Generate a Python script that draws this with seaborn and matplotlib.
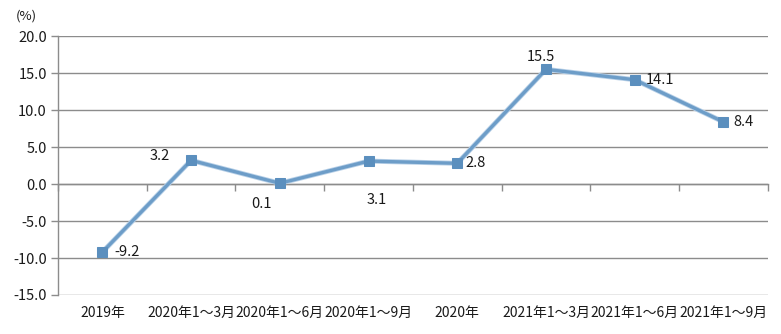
import matplotlib
matplotlib.use("Agg")
import matplotlib.pyplot as plt
import seaborn as sns
import pandas as pd
import numpy as np

# Growth rate (%) per period
periods = ["2019年", "2020年1～3月", "2020年1～6月", "2020年1～9月", "2020年",
           "2021年1～3月", "2021年1～6月", "2021年1～9月"]
growth = [-9.2, 3.2, 0.1, 3.1, 2.8, 15.5, 14.1, 8.4]
y_ticks = [20, 15, 10, 5, 0, -5, -10, -15]

sns.set_theme(style="white")
plt.rcParams['font.family'] = ['Noto Sans CJK SC', 'DejaVu Sans']

df = pd.DataFrame({"pos": np.arange(len(periods)), "growth": growth})

fig = plt.figure(figsize=(7.81, 3.34), dpi=100)
ax = fig.add_axes([0.0743, 0.1168, 0.9087, 0.7752])

grid_c = "#8c8c8c"
text_c = "#1a1a1a"
for t in y_ticks:
    ax.axhline(t, color=grid_c, lw=1.0, zorder=1)

# soft edge under the main line
sns.lineplot(data=df, x="pos", y="growth", ax=ax, color="#b9d1e8", lw=3.6,
             zorder=2, legend=False)
sns.lineplot(data=df, x="pos", y="growth", ax=ax, color="#6d9dc8", lw=2.4,
             marker="s", markersize=6.5, markerfacecolor="#5b8fbe",
             markeredgecolor="#5b8fbe", zorder=3, legend=False)

ax.set_xlim(-0.5, len(periods) - 0.5)
ax.set_ylim(-15, 20)
ax.set_xlabel("")
ax.set_ylabel("")

for s in ["top", "right", "bottom"]:
    ax.spines[s].set_visible(False)
ax.spines["left"].set_color(grid_c)
ax.spines["left"].set_linewidth(1.0)

ax.set_yticks(y_ticks)
ax.set_yticklabels([f"{t:.1f}" for t in y_ticks], fontsize=10.5, color=text_c)
ax.tick_params(axis="y", which="major", direction="out", length=5,
               color=grid_c, width=1.0, pad=3, left=True)

ax.set_xticks(df["pos"])
ax.set_xticklabels(periods, fontsize=10, color=text_c)
ax.tick_params(axis="x", length=0, pad=8)

# zero axis line with category boundary ticks
y0, y1 = ax.get_ylim()
zero_frac = (0 - y0) / (y1 - y0)
sec = ax.secondary_xaxis(zero_frac)
sec.set_xticks(np.arange(len(periods) + 1) - 0.5)
sec.set_xticklabels([])
sec.tick_params(direction="out", length=5, color=grid_c, width=1.0)
sec.spines["bottom"].set_color(grid_c)
sec.spines["bottom"].set_linewidth(1.0)

# value labels
offsets = [(8.5, 0, "left", "center"), (-15, 3, "right", "center"),
           (-6, -15, "right", "center"), (6, -28, "center", "center"),
           (6, 0, "left", "center"), (-4, 4, "center", "bottom"),
           (8, 0, "left", "center"), (7, 0, "left", "center")]
for i, (v, (dx, dy, ha, va)) in enumerate(zip(growth, offsets)):
    ax.annotate(f"{v:.1f}", (i, v), xytext=(dx, dy), textcoords="offset points",
                ha=ha, va=va, fontsize=10.5, color=text_c)

fig.text(0.02, 0.952, "(%)", fontsize=9.5, color=text_c, ha="left", va="center")

fig.savefig("out.png", dpi=100, facecolor="white")
